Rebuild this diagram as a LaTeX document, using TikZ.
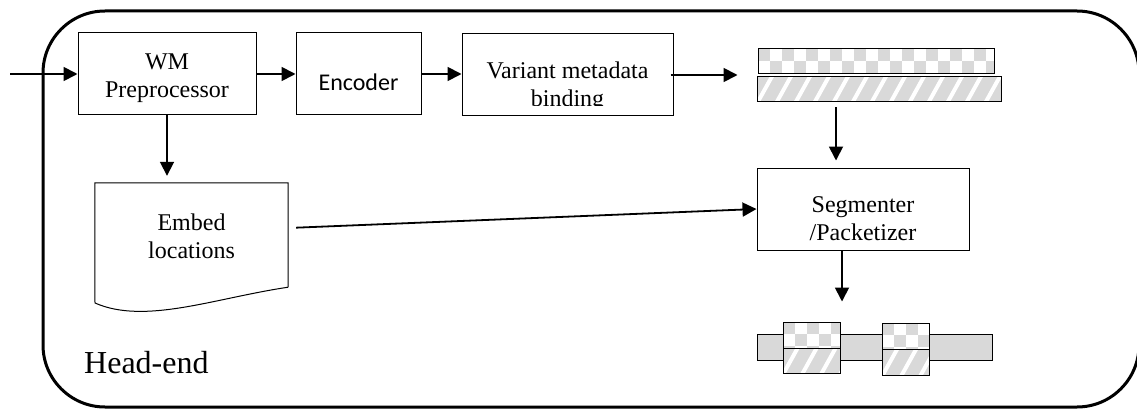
\documentclass[tikz,border=0pt]{standalone}
\usepackage{fontspec}
\setmainfont{Liberation Serif}
\newfontfamily\calib{Carlito}
\usetikzlibrary{arrows.meta,calc}
\definecolor{pg}{HTML}{D9D9D9}
\newcommand\mychecker[4]{%
  \begin{scope}
    \clip (#1,#2) rectangle (#3,#4);
    \fill[white] (#1,#2) rectangle (#3,#4);
    \foreach \i in {0,2,...,24} \foreach \j in {0,...,3}
      \fill[pg] ({#1+(\i+mod(\j,2))*12},{#2+\j*12}) rectangle ++(12,12);
  \end{scope}}
\newcommand\myhatch[4]{%
  \begin{scope}
    \clip (#1,#2) rectangle (#3,#4);
    \fill[pg] (#1,#2) rectangle (#3,#4);
    \foreach \k in {-40,-21,...,260}
      \draw[white, line width=4pt] ({#1+\k},{#4+5}) -- ++(20,-36);
  \end{scope}}
\begin{document}
\begin{tikzpicture}[x=1pt,y=-1pt,
  box/.style={draw, line width=1pt, inner sep=0pt},
  lbl/.style={align=center, font=\fontsize{24}{28}\selectfont, inner sep=0pt},
  arr/.style={line width=1.8pt, -{Triangle[length=14pt,width=14pt]}},
  frame/.style={line width=3pt, rounded corners=62pt}]
\useasboundingbox (0,0) rectangle (1137,409);
\begin{scope}
  \clip (0,0) rectangle (1137,409);
  \draw[frame] (43,11) rectangle (1139,407);
\end{scope}

% top row boxes
\node[box, minimum width=178pt, minimum height=82pt] (wm) at (167,74) {};
\node[lbl] (wmt) at (167,78.6) {WM\\Preprocessor};
\node[box, minimum width=125pt, minimum height=82pt] (enc) at (358.5,74) {};
\node[anchor=base, font=\calib\fontsize{24}{28}\selectfont, inner sep=0pt] (enct) at (358.5,90.7) {Encoder};
\node[box, minimum width=211pt, minimum height=82pt] (var) at (567.5,75) {};
\begin{scope}
  \clip (var.north west) rectangle ([yshift=11pt]var.south east);
  \node[lbl] (vart) at (567.5,86.4) {Variant metadata\\binding};
\end{scope}

% stacked variants
\mychecker{758}{49}{994}{74}
\myhatch{757}{77}{1001}{102}
\node[box, minimum width=236pt, minimum height=25pt] (stacktop) at (876,61.5) {};
\node[box, minimum width=244pt, minimum height=25pt] (stackbot) at (879,89.5) {};

% segmenter
\node[box, minimum width=212pt, minimum height=82pt] (seg) at (863,209) {};
\node[lbl] (segt) at (863,219) {Segmenter\\/Packetizer};

% embed locations (document shape)
\node[inner sep=0pt, minimum width=193pt, minimum height=104pt] (embed) at (191.5,235) {};
\draw[line width=1pt] (embed.south east) -- (embed.north east) -- (embed.north west)
  -- (95,303) .. controls (145,325) and (215,298) .. (embed.south east);
\node[lbl] (embedt) at (191.5,235.8) {Embed\\locations};

% packetized output
\node[box, fill=pg, minimum width=235pt, minimum height=26pt] (bar) at (874.5,347) {};
\mychecker{783}{322}{840}{348}
\myhatch{783}{348}{840}{373}
\mychecker{882}{323}{929}{349}
\myhatch{882}{349}{929}{375}
\node[box, minimum width=57pt, minimum height=26pt] (p1a) at (811.5,335) {};
\node[box, minimum width=57pt, minimum height=25pt] (p1b) at (811.5,360.5) {};
\node[box, minimum width=47pt, minimum height=26pt] (p2a) at (905.5,336) {};
\node[box, minimum width=47pt, minimum height=26pt] (p2b) at (905.5,362) {};

% head-end label
\node[anchor=base west, font=\fontsize{32}{38}\selectfont, inner sep=0pt] (he) at (84,373) {Head-end};

% connectors
\coordinate (in) at (10,74);
\draw[arr] (in) -- (wm.west);
\draw[arr] (wm.east) -- (enc.west);
\draw[arr] (enc.east) -- (enc.east -| var.west);
\draw[arr, shorten >=20pt] ([xshift=-3pt]var.east) -- (var.east -| stacktop.west);
\draw[arr, shorten >=7pt] (wm.south) -- (wm.south |- embed.north);
\draw[arr, shorten <=8pt] ([yshift=7pt]embed.east) -- (seg.west);
\draw[arr, shorten <=5pt, shorten >=7pt] ([xshift=-43pt]stackbot.south) -- ([xshift=-43pt]stackbot.south |- seg.north);
\draw[arr, shorten >=32pt] ([xshift=-21pt]seg.south) -- ([xshift=-21pt]seg.south |- bar.north);
\end{tikzpicture}
\end{document}
